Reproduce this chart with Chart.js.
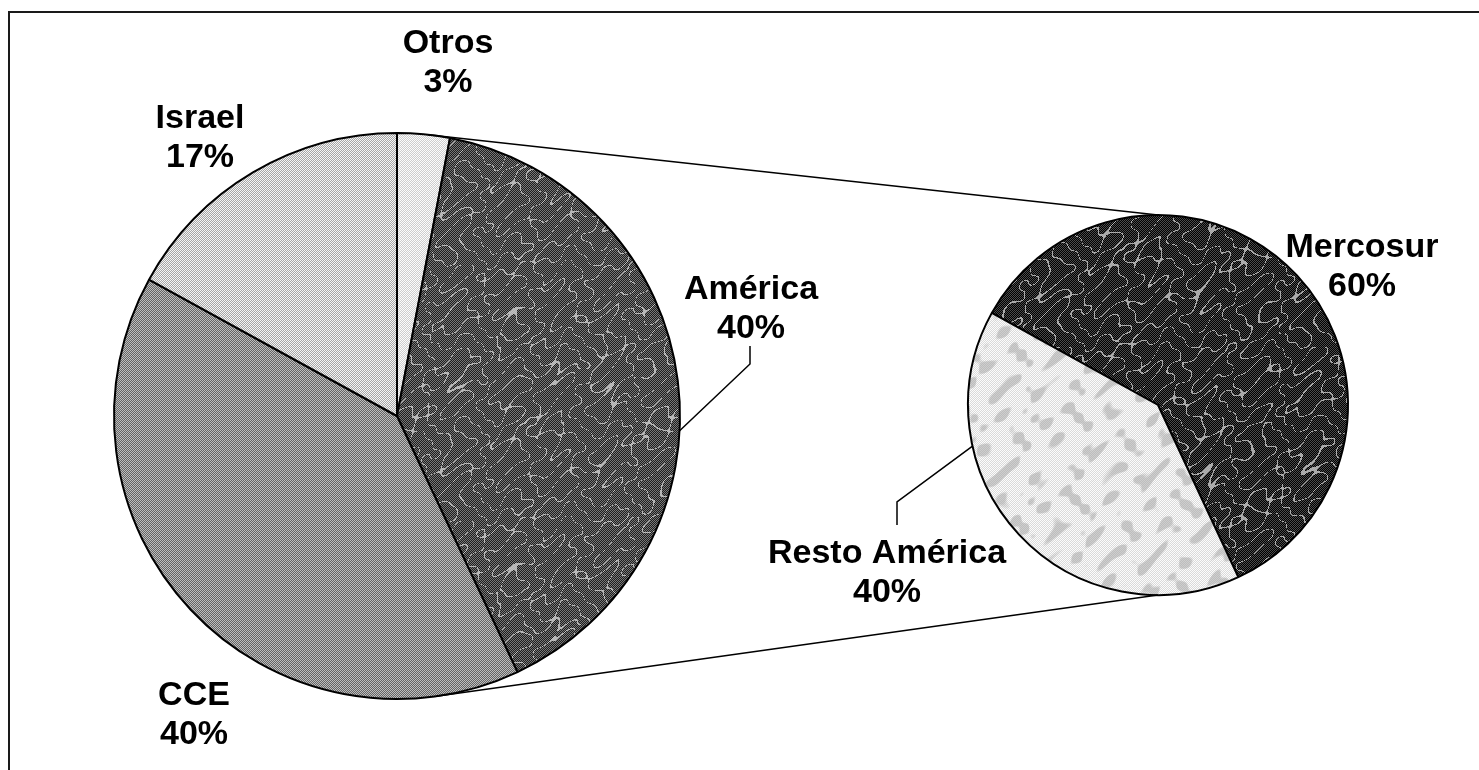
<!DOCTYPE html>
<html>
<head>
<meta charset="utf-8">
<script src="https://cdn.jsdelivr.net/npm/chart.js@4.4.1/dist/chart.umd.min.js"></script>
<style>
  html, body { margin: 0; padding: 0; background: #fff; width: 1479px; height: 770px; overflow: hidden; }
  #frame { position: absolute; left: 8px; top: 11px; width: 1479px; height: 770px; border-top: 2px solid #1a1a1a; border-left: 2px solid #1a1a1a; }
  #mainWrap { position: absolute; left: 109px; top: 128px; }
  #subWrap { position: absolute; left: 963px; top: 210px; }
  #overlay { position: absolute; left: 0; top: 0; pointer-events: none; }
</style>
</head>
<body>
<div id="frame"></div>
<div id="mainWrap"><canvas id="mainPie" width="576" height="576"></canvas></div>
<div id="subWrap"><canvas id="subPie" width="390" height="390"></canvas></div>
<canvas id="overlay" width="1479" height="770"></canvas>
<script>
// main pie, clockwise from 12 o'clock
const mainLabels = ['Otros', 'América', 'CCE', 'Israel'];
const mainValues = [3, 40, 40, 17];
// breakdown of América
const subLabels = ['Mercosur', 'Resto América'];
const subValues = [60, 40];

// label anchors: centre x, first baseline y (page px)
const labelPos = {
  'Otros': [448, 53], 'Israel': [200, 128], 'América': [751, 299], 'CCE': [194, 705],
  'Mercosur': [1362, 257], 'Resto América': [887, 563]
};
// leader lines: which pie, clock angle on the rim, elbow, end under/over the label
const leaders = [
  { pie: 'main', angle: 93, elbow: [750, 364], end: [750, 346] },
  { pie: 'sub', angle: 257.5, elbow: [897, 502], end: [897, 525] }
];

// halftone-ish fill: checker of two greys, optional thin light veins / soft patches
function texture(a, b, tone, veins, patch) {
  const n = 256, cv = document.createElement('canvas');
  cv.width = cv.height = n;
  const g = cv.getContext('2d'), img = g.createImageData(n, n);
  const k = 2 * Math.PI / n;
  for (let y = 0; y < n; y++) for (let x = 0; x < n; x++) {
    let v = ((x + y) & 1) ? a : b;
    const f = Math.sin(7 * k * x + 2.2 * Math.sin(3 * k * y)) + Math.sin(9 * k * y + 1.8 * Math.cos(5 * k * x))
            + 0.6 * Math.sin(13 * k * (x + y) + Math.sin(4 * k * x));
    if (veins && Math.abs(f) < veins) v = v + (tone - v) * 0.75;
    if (patch && f > 0.6) v = v + (tone - v) * patch * Math.min(1, (f - 0.6) * 1.5);
    const i = (y * n + x) * 4;
    img.data[i] = img.data[i + 1] = img.data[i + 2] = v;
    img.data[i + 3] = 255;
  }
  g.putImageData(img, 0, 0);
  return g.createPattern(cv, 'repeat');
}

const mainFills = [texture(252, 205), texture(120, 30, 220, 0.12), texture(190, 100), texture(245, 165)];
const subFills = [texture(75, 0, 215, 0.15), texture(252, 218, 160, 0, 0.5)];

function pieChart(id, labels, values, fills, rotation) {
  return new Chart(document.getElementById(id), {
    type: 'pie',
    data: { labels, datasets: [{ data: values, backgroundColor: fills, borderColor: '#000', borderWidth: 2 }] },
    options: {
      responsive: false, animation: false, rotation,
      layout: { padding: 4 },
      plugins: { legend: { display: false }, tooltip: { enabled: false } }
    }
  });
}

const mainChart = pieChart('mainPie', mainLabels, mainValues, mainFills, 0);
const subChart = pieChart('subPie', subLabels, subValues, subFills, -61);

function circleOf(chart, wrapId) {
  const w = document.getElementById(wrapId), a = chart.getDatasetMeta(0).data[0];
  return { x: w.offsetLeft + a.x, y: w.offsetTop + a.y, r: a.outerRadius };
}
function rimPoint(c, clockDeg) {
  const t = (clockDeg - 90) * Math.PI / 180;
  return [c.x + c.r * Math.cos(t), c.y + c.r * Math.sin(t)];
}
function tangentPoint(px, py, c, upper) {
  const d = Math.hypot(px - c.x, py - c.y);
  const base = Math.atan2(py - c.y, px - c.x), beta = Math.acos(c.r / d);
  const t = upper ? base - beta : base + beta;
  return [c.x + c.r * Math.cos(t), c.y + c.r * Math.sin(t)];
}

const main = circleOf(mainChart, 'mainWrap');
const sub = circleOf(subChart, 'subWrap');
const ctx = document.getElementById('overlay').getContext('2d');
ctx.strokeStyle = '#000';
ctx.lineWidth = 1.5;

// connector lines from the main pie to top and bottom of the secondary pie
[[sub.y - sub.r, true], [sub.y + sub.r, false]].forEach(([py, upper]) => {
  const t = tangentPoint(sub.x, py, main, upper);
  ctx.beginPath(); ctx.moveTo(t[0], t[1]); ctx.lineTo(sub.x, py); ctx.stroke();
});

leaders.forEach(l => {
  const p = rimPoint(l.pie === 'main' ? main : sub, l.angle);
  ctx.beginPath(); ctx.moveTo(p[0], p[1]); ctx.lineTo(l.elbow[0], l.elbow[1]); ctx.lineTo(l.end[0], l.end[1]); ctx.stroke();
});

ctx.fillStyle = '#000';
ctx.font = 'bold 34px "Liberation Sans", Arial, sans-serif';
ctx.textAlign = 'center';
ctx.textBaseline = 'alphabetic';
const allLabels = mainLabels.concat(subLabels), allValues = mainValues.concat(subValues);
allLabels.forEach((lab, i) => {
  const [x, y] = labelPos[lab];
  ctx.fillText(lab, x, y);
  ctx.fillText(allValues[i] + '%', x, y + 39);
});
</script>
</body>
</html>
